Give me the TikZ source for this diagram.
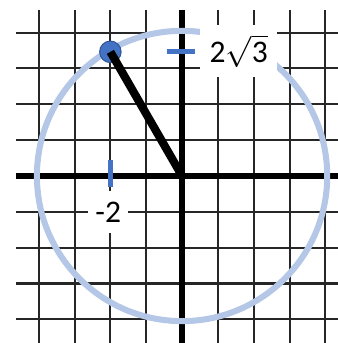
\documentclass[tikz,border=0pt]{standalone}
\usepackage{fontspec}
\setmainfont{Carlito}
\usepackage{xcolor}
\usetikzlibrary{arrows.meta, positioning, calc}
\definecolor{ringblue}{HTML}{B4C7E7}
\definecolor{markblue}{HTML}{4472C4}
\definecolor{dotedge}{HTML}{2F5597}

\begin{document}
\begin{tikzpicture}[
    gridline/.style={line width=1.6pt, black!85},
    axis/.style={line width=4.8pt, black},
    ring/.style={line width=4.8pt, ringblue},
    tickmark/.style={line width=4pt, markblue},
    arm/.style={line width=6.5pt, black},
    dot/.style={circle, fill=markblue, draw=dotedge, line width=0.8pt,
                minimum size=0.6cm, inner sep=0pt},
    lbl/.style={fill=white, inner sep=0pt, align=center,
                font=\fontsize{25}{30}\selectfont},
]
    \useasboundingbox (-5.08,-4.66) rectangle (4.35,4.91);

    % Grid
    \foreach \k in {-4,...,4} {
        \draw[gridline] (\k,4.63) -- (\k,-4.66);
        \draw[gridline] (-4.63,\k) -- (4.35,\k);
    }

    % Axes
    \draw[axis] (-4.63,0) -- (4.35,0);
    \draw[axis] (0,4.63) -- (0,-4.66);

    % Circle
    \draw[ring] (0,0) circle (4.05);

    % Labels
    \node[lbl, minimum width=2.15cm, minimum height=1.45cm] (ylab) at (1.58,3.49) {$\mbox{2}\sqrt{\mbox{3}}$};
    \node[lbl, minimum width=1.12cm, minimum height=1.18cm] (xlab) at (-2.06,-1.0) {-2};

    % Ticks
    \draw[tickmark] (-2,0.45) -- (-2,-0.3);
    \draw[tickmark] (-0.43,3.464) -- (0.36,3.464);

    % Point and arm
    \coordinate (O) at (0,0);
    \node[dot] (P) at (-2,3.464) {};
    \draw[arm] (P.center) -- (O);
\end{tikzpicture}
\end{document}
